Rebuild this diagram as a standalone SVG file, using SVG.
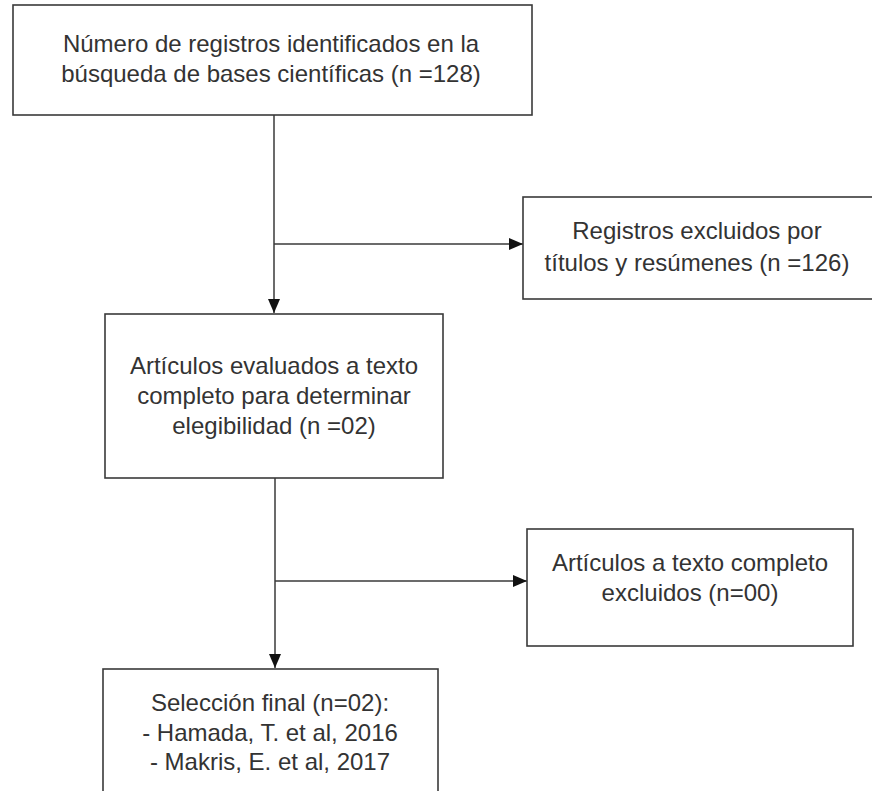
<svg xmlns="http://www.w3.org/2000/svg" width="872" height="791" viewBox="0 0 872 791">
<style>
.box{fill:#fff;stroke:#3a3a3a;stroke-width:1.6}
.t{font-family:"Liberation Sans",Arial,sans-serif;font-size:24px;fill:#333;text-anchor:middle}
.c{stroke:#3a3a3a;stroke-width:1.5;fill:none}
</style>
<defs>
<marker id="ah" viewBox="0 0 14 12" refX="14" refY="6" markerWidth="14" markerHeight="12" markerUnits="userSpaceOnUse" orient="auto">
<path d="M0,0 L14,6 L0,12 Z" fill="#111"/>
</marker>
</defs>
<rect width="872" height="791" fill="#fff"/>
<g id="connectors">
<line class="c" x1="274" y1="115" x2="274" y2="313" marker-end="url(#ah)"/>
<line class="c" x1="274" y1="244" x2="523" y2="244" marker-end="url(#ah)"/>
<line class="c" x1="275" y1="478" x2="275" y2="668" marker-end="url(#ah)"/>
<line class="c" x1="275" y1="581" x2="527" y2="581" marker-end="url(#ah)"/>
</g>
<g id="n1">
<rect class="box" x="13" y="5" width="519" height="110"/>
<text class="t" x="271" y="52">Número de registros identificados en la</text>
<text class="t" x="271" y="82">búsqueda de bases científicas (n =128)</text>
</g>
<g id="n2">
<rect class="box" x="523" y="197" width="350" height="102"/>
<text class="t" x="697" y="239">Registros excluidos por</text>
<text class="t" x="697" y="271">títulos y resúmenes (n =126)</text>
</g>
<g id="n3">
<rect class="box" x="105" y="314" width="338" height="164"/>
<text class="t" x="274" y="374">Artículos evaluados a texto</text>
<text class="t" x="274" y="404">completo para determinar</text>
<text class="t" x="274" y="434">elegibilidad (n =02)</text>
</g>
<g id="n4">
<rect class="box" x="527" y="529" width="326" height="117"/>
<text class="t" x="690" y="571">Artículos a texto completo</text>
<text class="t" x="690" y="601">excluidos (n=00)</text>
</g>
<g id="n5">
<rect class="box" x="103" y="669" width="335" height="130"/>
<text class="t" x="270" y="711">Selección final (n=02):</text>
<text class="t" x="270" y="741">- Hamada, T. et al, 2016</text>
<text class="t" x="270" y="770">- Makris, E. et al, 2017</text>
</g>
</svg>
